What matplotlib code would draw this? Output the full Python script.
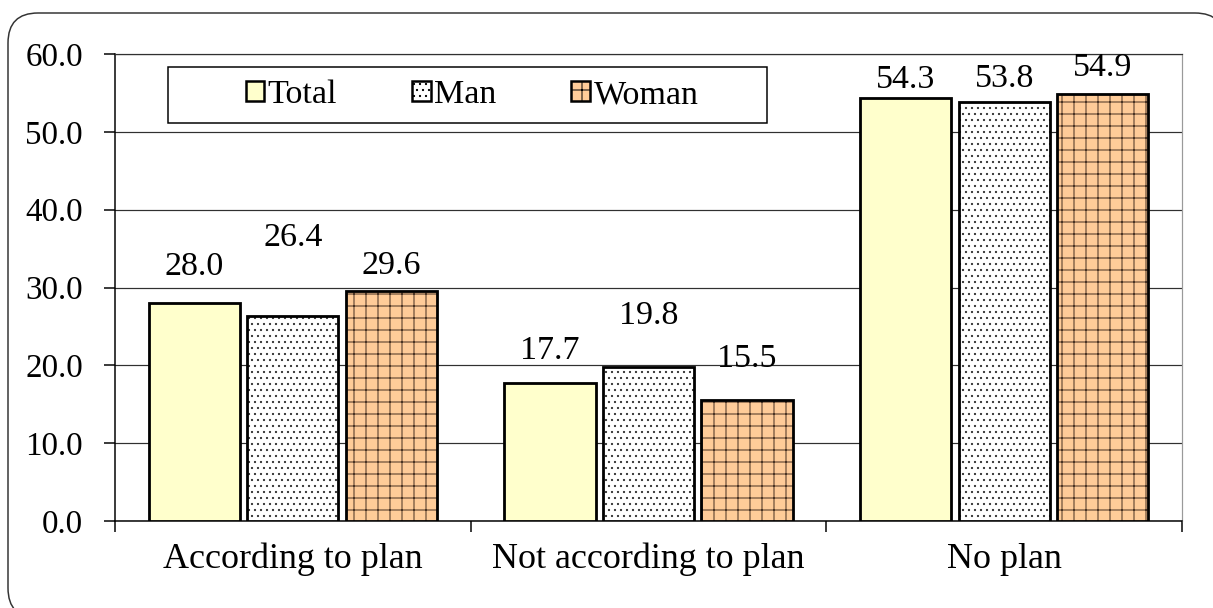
import numpy as np
import matplotlib
matplotlib.use("Agg")
from matplotlib import pyplot as plt
from matplotlib.patches import FancyBboxPatch, Rectangle, Patch

categories = ["According to plan", "Not according to plan", "No plan"]
series_names = ["Total", "Man", "Woman"]
total = [28.0, 17.7, 54.3]
man = [26.4, 19.8, 53.8]
woman = [29.6, 15.5, 54.9]

# label lift above each bar top, in points (dpi is 72 so points == pixels)
label_lift = [
    [28, 24, 10],
    [70, 43, 15],
    [17, 33, 18],
]

fills = ["#FFFFCC", "#FFFFFF", "#FFCC99"]
hatches = [None, "..", "+"]
hatch_colors = ["none", "#333333", "#4a3424"]

plt.rcParams["font.family"] = ["Liberation Serif", "DejaVu Serif"]
plt.rcParams["hatch.linewidth"] = 1.0

DPI = 72
W, H = 1213, 608
fig = plt.figure(figsize=(W / DPI, H / DPI), dpi=DPI)

# background layer in pixel units for the rounded outer frame
bg = fig.add_axes([0, 0, 1, 1], zorder=-1)
bg.set_xlim(0, W)
bg.set_ylim(H, 0)
bg.axis("off")
bg.add_patch(FancyBboxPatch((8, 13), 1217, 605,
                            boxstyle="round,pad=0,rounding_size=30",
                            facecolor="white", edgecolor="#333333",
                            linewidth=1.5))

ax = fig.add_axes([115 / W, 87 / H, 1067 / W, 467 / H])
ax.patch.set_alpha(0)

x = np.arange(len(categories))
offset = 0.277
width = 0.256
values = [total, man, woman]

for i, vals in enumerate(values):
    xs = x + (i - 1) * offset
    ax.bar(xs, vals, width, color=fills[i], linewidth=0, zorder=3)
    if hatches[i]:
        ax.bar(xs, vals, width, facecolor="none", edgecolor=hatch_colors[i],
               hatch=hatches[i], linewidth=0, zorder=4)
    ax.bar(xs, vals, width, facecolor="none", edgecolor="black",
           linewidth=2.8, zorder=5)
    for j, v in enumerate(vals):
        ax.annotate(f"{v:.1f}", (xs[j], v), xytext=(0, label_lift[i][j]),
                    textcoords="offset points", ha="center", va="baseline",
                    fontsize=34, zorder=6)

ax.set_xlim(-0.5, 2.5)
ax.set_ylim(0, 60)
ax.set_yticks(np.arange(0, 61, 10))
ax.set_yticklabels([f"{t:.1f}" for t in np.arange(0, 61, 10)])
ax.yaxis.grid(True, color="#303030", linewidth=1.2, zorder=1)
ax.set_axisbelow(True)

ax.set_xticks(x)
ax.set_xticklabels(categories)
ax.set_xticks(np.arange(-0.5, 3.0, 1.0), minor=True)
ax.tick_params(axis="x", which="major", length=0, pad=22, labelsize=36)
ax.tick_params(axis="x", which="minor", length=11, width=1.5, direction="out")
ax.tick_params(axis="y", length=11, width=1.5, direction="out", pad=21,
               labelsize=33)

for side in ["left", "bottom"]:
    ax.spines[side].set_linewidth(1.5)
    ax.spines[side].set_color("black")
ax.spines["top"].set_color("#303030")
ax.spines["top"].set_linewidth(1.2)
ax.spines["right"].set_color("#9a9a9a")
ax.spines["right"].set_linewidth(1.2)

# legend box
box = Rectangle(((168 - 115) / 1067, (521 - 123) / 467), (767 - 168) / 1067,
                56 / 467, transform=ax.transAxes, facecolor="white",
                edgecolor="black", linewidth=1.5, zorder=7)
ax.add_patch(box)
handles = [Patch(facecolor=fills[i], edgecolor="black", linewidth=2.5,
                 hatch=hatches[i]) for i in range(3)]
leg = ax.legend(handles, series_names, loc="center", ncol=3, frameon=False,
                bbox_to_anchor=((472 - 115) / 1067, (521 - 95) / 467),
                fontsize=34, handlelength=0.55, handleheight=0.55,
                handletextpad=0.1, columnspacing=2.2, borderpad=0)
leg.set_zorder(8)

fig.savefig("out.png", dpi=DPI)
